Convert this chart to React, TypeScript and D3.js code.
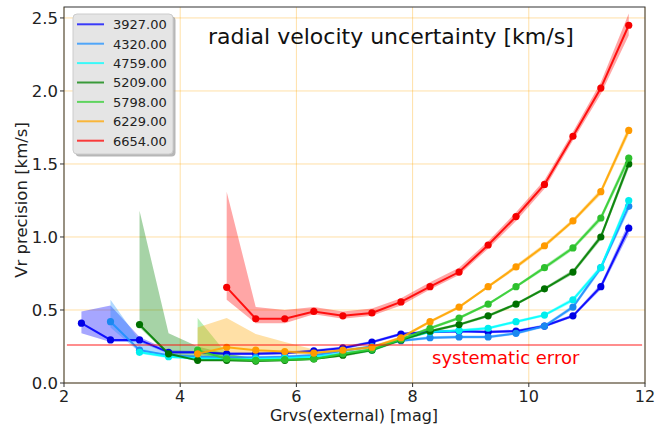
import React from "react";
import * as d3 from "d3";

// ---- data ----
const X = [2.3, 2.8, 3.3, 3.8, 4.3, 4.8, 5.3, 5.8, 6.3, 6.8, 7.3, 7.8, 8.3, 8.8, 9.3, 9.78, 10.27, 10.76, 11.24, 11.72];

const teffLabels = ["3927.00", "4320.00", "4759.00", "5209.00", "5798.00", "6229.00", "6654.00"];
const startIdx = [0, 1, 2, 2, 4, 4, 5];

const v3927 = [0.41, 0.295, 0.295, 0.21, 0.21, 0.2, 0.2, 0.205, 0.22, 0.24, 0.28, 0.335, 0.35, 0.355, 0.35, 0.355, 0.39, 0.46, 0.66, 1.06];
const lo3927 = [0.34, 0.28, 0.28, 0.2, 0.2, 0.19, 0.19, 0.195, 0.21, 0.23, 0.27, 0.325, 0.34, 0.345, 0.34, 0.345, 0.38, 0.45, 0.64, 1.02];
const hi3927 = [0.49, 0.53, 0.315, 0.225, 0.22, 0.21, 0.21, 0.215, 0.23, 0.25, 0.29, 0.345, 0.36, 0.365, 0.36, 0.365, 0.4, 0.47, 0.68, 1.1];

const v4320 = [0.42, 0.225, 0.19, 0.18, 0.175, 0.175, 0.18, 0.19, 0.22, 0.25, 0.29, 0.31, 0.315, 0.315, 0.34, 0.39, 0.52, 0.79, 1.21];
const lo4320 = [0.38, 0.21, 0.18, 0.17, 0.165, 0.165, 0.17, 0.18, 0.21, 0.24, 0.28, 0.3, 0.305, 0.305, 0.33, 0.38, 0.505, 0.77, 1.18];
const hi4320 = [0.57, 0.29, 0.2, 0.19, 0.185, 0.185, 0.19, 0.2, 0.23, 0.26, 0.3, 0.32, 0.325, 0.325, 0.35, 0.4, 0.535, 0.81, 1.24];

const v4759 = [0.21, 0.18, 0.17, 0.165, 0.165, 0.17, 0.18, 0.2, 0.225, 0.3, 0.35, 0.36, 0.375, 0.42, 0.465, 0.57, 0.79, 1.25];
const lo4759 = [0.2, 0.17, 0.16, 0.155, 0.155, 0.16, 0.17, 0.19, 0.215, 0.29, 0.34, 0.35, 0.365, 0.41, 0.455, 0.555, 0.77, 1.22];
const hi4759 = [0.24, 0.19, 0.18, 0.175, 0.175, 0.18, 0.19, 0.21, 0.235, 0.31, 0.36, 0.37, 0.385, 0.43, 0.475, 0.585, 0.81, 1.28];

const v5209 = [0.4, 0.2, 0.155, 0.155, 0.15, 0.155, 0.165, 0.19, 0.225, 0.295, 0.355, 0.4, 0.46, 0.54, 0.645, 0.76, 1.0, 1.5];
const lo5209 = [0.38, 0.19, 0.15, 0.15, 0.145, 0.15, 0.16, 0.18, 0.215, 0.285, 0.345, 0.39, 0.45, 0.53, 0.635, 0.745, 0.98, 1.47];
const hi5209 = [1.18, 0.34, 0.25, 0.2, 0.17, 0.165, 0.175, 0.2, 0.235, 0.305, 0.365, 0.41, 0.47, 0.55, 0.655, 0.775, 1.02, 1.53];

const v5798 = [0.225, 0.165, 0.155, 0.16, 0.165, 0.2, 0.23, 0.3, 0.375, 0.445, 0.54, 0.66, 0.79, 0.925, 1.13, 1.54];
const lo5798 = [0.2, 0.155, 0.15, 0.155, 0.16, 0.19, 0.22, 0.29, 0.365, 0.435, 0.53, 0.65, 0.775, 0.91, 1.11, 1.51];
const hi5798 = [0.445, 0.2, 0.165, 0.17, 0.175, 0.21, 0.24, 0.31, 0.385, 0.455, 0.55, 0.67, 0.805, 0.94, 1.15, 1.57];

const v6229 = [0.2, 0.245, 0.225, 0.215, 0.205, 0.225, 0.245, 0.31, 0.42, 0.52, 0.66, 0.795, 0.94, 1.11, 1.31, 1.73];
const lo6229 = [0.19, 0.21, 0.2, 0.2, 0.195, 0.215, 0.235, 0.3, 0.41, 0.51, 0.65, 0.78, 0.925, 1.095, 1.29, 1.7];
const hi6229 = [0.38, 0.445, 0.335, 0.28, 0.23, 0.235, 0.255, 0.32, 0.43, 0.53, 0.67, 0.81, 0.955, 1.125, 1.33, 1.76];

const v6654 = [0.655, 0.44, 0.44, 0.49, 0.46, 0.48, 0.555, 0.66, 0.76, 0.945, 1.14, 1.36, 1.69, 2.02, 2.45];
const lo6654 = [0.57, 0.41, 0.41, 0.47, 0.44, 0.46, 0.53, 0.64, 0.74, 0.92, 1.11, 1.33, 1.66, 1.98, 2.38];
const hi6654 = [1.31, 0.52, 0.5, 0.52, 0.49, 0.51, 0.58, 0.69, 0.79, 0.97, 1.17, 1.39, 1.72, 2.06, 2.53];

const values = [v3927, v4320, v4759, v5209, v5798, v6229, v6654];
const lows = [lo3927, lo4320, lo4759, lo5209, lo5798, lo6229, lo6654];
const highs = [hi3927, hi4320, hi4759, hi5209, hi5798, hi6229, hi6654];

const xTicks = [2, 4, 6, 8, 10, 12];
const yTicks = [0, 0.5, 1.0, 1.5, 2.0, 2.5];
const systematicError = 0.26;

// ---- style ----
const lineColors = ["#0000ff", "#1e90ff", "#00ffff", "#008000", "#32cd32", "#ffa500", "#ff0000"];
const markerColors = ["#0000e6", "#1a88f0", "#00eeee", "#007000", "#2ec02e", "#ff9a00", "#f50000"];
const FONT = "DejaVu Sans, sans-serif";

const W = 656, H = 425;
const L = 64, R = 645, T = 7, B = 383;

export default function App() {
  const x = d3.scaleLinear().domain([2, 12]).range([L, R]);
  const y = d3.scaleLinear().domain([0, 2.575]).range([B, T]);

  const series = values.map((vals, s) =>
    vals.map((v, i) => ({ x: X[startIdx[s] + i], v, lo: lows[s][i], hi: highs[s][i] }))
  );

  const line = d3.line<any>().x((d) => x(d.x)).y((d) => y(d.v));
  const area = d3.area<any>().x((d) => x(d.x)).y0((d) => y(d.lo)).y1((d) => y(d.hi));

  const legX = 73, legY = 14, legW = 100, legH = 140;

  return (
    <svg width={W} height={H} style={{ position: "absolute", left: 0, top: 0, display: "block" }} fontFamily={FONT}>
      <rect x={0} y={0} width={W} height={H} fill="#fff" />
      <defs>
        <clipPath id="plot">
          <rect x={L} y={T} width={R - L} height={B - T} />
        </clipPath>
      </defs>
      {/* grid */}
      {xTicks.map((t) => (
        <line key={"gx" + t} x1={x(t)} x2={x(t)} y1={T} y2={B} stroke="#ffa500" strokeOpacity={0.35} strokeWidth={1} />
      ))}
      {yTicks.map((t) => (
        <line key={"gy" + t} x1={L} x2={R} y1={y(t)} y2={y(t)} stroke="#ffa500" strokeOpacity={0.35} strokeWidth={1} />
      ))}
      <g clipPath="url(#plot)">
        {series.map((pts, s) => (
          <path key={"a" + s} d={area(pts) || ""} fill={lineColors[s]} fillOpacity={0.35} stroke="none" />
        ))}
        {series.map((pts, s) => (
          <g key={"l" + s}>
            <path d={line(pts) || ""} fill="none" stroke={lineColors[s]} strokeWidth={2} strokeOpacity={0.9} />
            {pts.map((p, i) => (
              <circle key={i} cx={x(p.x)} cy={y(p.v)} r={3.6} fill={markerColors[s]} />
            ))}
          </g>
        ))}
        <line x1={x(2.05)} x2={x(11.95)} y1={y(systematicError)} y2={y(systematicError)} stroke="#ff0000" strokeOpacity={0.6} strokeWidth={1.6} />
      </g>
      <text x={432} y={364} fontSize={18} fill="#ff0000">systematic error</text>
      {/* frame */}
      <rect x={L} y={T} width={R - L} height={B - T} fill="none" stroke="#333" strokeWidth={1} />
      {/* ticks */}
      {xTicks.map((t) => (
        <g key={"xt" + t}>
          <line x1={x(t)} x2={x(t)} y1={B} y2={B + 4} stroke="#333" />
          <text x={x(t)} y={402} fontSize={16} textAnchor="middle" fill="#222">{t}</text>
        </g>
      ))}
      {yTicks.map((t) => (
        <g key={"yt" + t}>
          <line x1={L - 4} x2={L} y1={y(t)} y2={y(t)} stroke="#333" />
          <text x={L - 6} y={y(t) + 6} fontSize={16.5} textAnchor="end" fill="#222">{t.toFixed(1)}</text>
        </g>
      ))}
      <text x={354} y={421} fontSize={16} textAnchor="middle" fill="#222">Grvs(external) [mag]</text>
      <text transform={`translate(27,200) rotate(-90)`} fontSize={16.5} textAnchor="middle" fill="#222">Vr precision [km/s]</text>
      {/* title */}
      <text x={208} y={44} fontSize={22} fill="#111">radial velocity uncertainty [km/s]</text>
      {/* legend */}
      <rect x={legX + 2.5} y={legY + 2.5} width={legW} height={legH} rx={4} fill="#999" fillOpacity={0.7} />
      <rect x={legX} y={legY} width={legW} height={legH} rx={4} fill="#e5e5e5" stroke="#cccccc" strokeWidth={1} />
      {teffLabels.map((lab, s) => {
        const cy = 24.3 + s * 19.4;
        return (
          <g key={"lg" + s}>
            <line x1={77} x2={104} y1={cy} y2={cy} stroke={lineColors[s]} strokeWidth={2} strokeOpacity={0.75} />
            <text x={113} y={cy + 4.8} fontSize={13} fill="#222">{lab}</text>
          </g>
        );
      })}
    </svg>
  );
}
